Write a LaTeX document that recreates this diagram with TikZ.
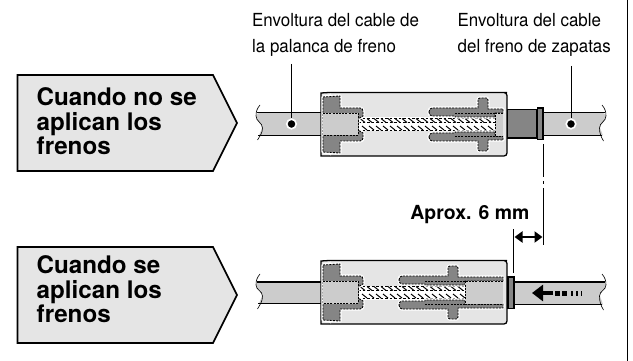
\documentclass[tikz,border=0pt]{standalone}
\usepackage{fontspec}
\setmainfont{TeX Gyre Heros}
\newfontfamily\narrowfont[FakeStretch=0.94]{TeX Gyre Heros}
\usetikzlibrary{arrows.meta}
\definecolor{panel}{gray}{0.90}
\definecolor{cablegray}{gray}{0.80}
\definecolor{partdark}{gray}{0.52}
\tikzset{
  signbox/.style={draw=black,line width=1.7pt,fill=panel,line join=miter},
  signtext/.style={anchor=north west,inner sep=0pt,align=left,font=\fontsize{24.2}{24.6}\selectfont\bfseries},
  calltext/.style={anchor=north west,inner sep=0pt,align=left,font=\narrowfont\fontsize{18}{26}\selectfont},
  leader/.style={draw=black,line width=0.8pt},
  dimline/.style={draw=black,line width=0.8pt},
  dotmark/.style={circle,fill=black,draw=white,line width=1.6pt,minimum size=9.5pt,inner sep=0pt},
  cableedge/.style={draw=black,line width=1.7pt},
  endcurve/.style={draw=black,line width=0.6pt},
  halo/.style={draw=white,line width=3.2pt,line join=round},
  partfill/.style={fill=partdark,draw=black,line width=0.9pt,dash pattern=on 2pt off 1.2pt},
  strand/.style={draw=black,line width=1pt},
}
% #1 = how far the right hand piece has moved to the left
\newcommand{\pieceupper}[1]{
  (429-#1,112) to[out=90,in=180] (432-#1,108) -- (478-#1,108) -- (478-#1,100)
  to[out=90,in=180] (480-#1,98) -- (486-#1,98) to[out=0,in=90] (488-#1,100) -- (488-#1,109) -- (503,109)
  -- (503,113) -- (495-#1,113) -- (495-#1,117) -- (455-#1,117) -- (455-#1,116) -- (432-#1,116) to[out=180,in=270] cycle
}
\newcommand{\piecelower}[1]{
  (429-#1,137) to[out=270,in=180] (432-#1,141) -- (478-#1,141) -- (478-#1,149)
  to[out=270,in=180] (480-#1,151) -- (486-#1,151) to[out=0,in=270] (488-#1,149) -- (488-#1,140) -- (503,140)
  -- (503,136) -- (495-#1,136) -- (495-#1,132) -- (455-#1,132) -- (455-#1,133) -- (432-#1,133) to[out=180,in=90] cycle
}
% the connector body, drawn in the coordinates of the upper one
\newcommand{\connectorbody}[1]{
  \fill[panel] (321,93) -- (507,93) -- (507,156) -- (321,156) -- cycle;
  \draw[black,line width=1.3pt,rounded corners=3pt] (329,92.5) -- (504,92.5) -- (507,92.5) -- (507,156) -- (329,156);
  \draw[black,line width=1.3pt] (329,92.5) -- (321,93) -- (321,156) -- (329,156);
  \draw[white,line width=0.7pt] (323,95) -- (329,95) -- (331,93.8);
  \draw[white,line width=0.7pt] (323,154) -- (329,154) -- (331,155);
  % strands
  \fill[white] (356,117.5) rectangle (495-#1,131.5);
  \foreach \sx in {360,367,...,490}{
    \pgfmathparse{\sx<(490-#1)?1:0}
    \ifnum\pgfmathresult=1
      \draw[strand] (\sx,118.5) -- (\sx+5,122.5);
      \draw[strand] (\sx+2,126) -- (\sx+7,130);
    \fi
  }
  \draw[strand,line width=.7pt,dash pattern=on 2.5pt off 2pt] (358,122.5) -- (495-#1,122.5);
  \draw[strand,line width=.7pt,dash pattern=on 2.5pt off 2pt] (358,130.5) -- (495-#1,130.5);
  \draw[strand,line width=.7pt,dash pattern=on 2.5pt off 2pt] (358,118) -- (495-#1,118);
  % left insert
  \path[halo,fill=white] (323,97) -- (340,96) -- (340,108) -- (360,108) to[out=0,in=90] (363,111) -- (363,116) -- (358,119)
     -- (358,130) -- (363,133) -- (363,138) to[out=270,in=0] (360,141) -- (340,141) -- (340,153) -- (323,152) -- cycle;
  \path[partfill] (323,97) -- (340,96) -- (340,108) -- (360,108) to[out=0,in=90] (363,111) -- (363,116) -- (358,119)
     -- (358,130) -- (363,133) -- (363,138) to[out=270,in=0] (360,141) -- (340,141) -- (340,153) -- (323,152) -- cycle;
  \fill[cablegray] (323,113) rectangle (358,135.5);
  \draw[strand,line width=.8pt,dash pattern=on 2pt off 1.2pt] (323,113) -- (358,113) -- (358,135.5) -- (323,135.5);
  % right piece
  \path[halo,fill=white] \pieceupper{#1};
  \path[halo,fill=white] \piecelower{#1};
  \path[partfill] \pieceupper{#1};
  \path[partfill] \piecelower{#1};
  \draw[strand,line width=.8pt,dash pattern=on 2pt off 1.2pt] (455-#1,113) -- (495-#1,113);
  \draw[strand,line width=.8pt,dash pattern=on 2pt off 1.2pt] (455-#1,136) -- (495-#1,136);
  \fill[cablegray] (495-#1,113) rectangle (503,136);
  \draw[strand,line width=.8pt,dash pattern=on 2pt off 1.2pt] (503,113) -- (495-#1,113) -- (495-#1,136) -- (503,136);
}
\begin{document}
\begin{tikzpicture}[x=1pt,y=-1pt]
\useasboundingbox (0,0) rectangle (633,361);
\fill[white] (0,0) rectangle (633,361);
% frame line
\coordinate (frameTop) at (627.5,0);
\coordinate (frameBottom) at (627.5,361);
\draw[black,line width=1pt] (frameTop) -- (frameBottom);

% signs
\draw[signbox] (17.5,75) -- (213,75) -- (237,123) -- (213,171) -- (17.5,171) -- cycle;
\node[signtext] (signA) at (36.5,87.5) {Cuando no se\\aplican los\\frenos};
\draw[signbox] (17.5,247) -- (213,247) -- (237,295) -- (213,343) -- (17.5,343) -- cycle;
\node[signtext] (signB) at (36.5,255.5) {Cuando se\\aplican los\\frenos};

% upper cables
\fill[cablegray] (259,113) to[out=180,in=90] (256,117) to[out=270,in=90] (262,128) to[out=270,in=90] (259,135.5) -- (321,135.5) -- (321,113) -- cycle;
\draw[cableedge,line width=1pt] (257,113) -- (321,113);
\draw[cableedge] (258,135.5) -- (321,135.5);
\draw[endcurve] (260,105) to[out=230,in=90] (256,116) to[out=270,in=90] (262.5,128) to[out=270,in=60] (257.5,140);
\fill[cablegray] (543,113) -- (603,113) to[out=0,in=90] (606,117) to[out=270,in=90] (600,128) to[out=270,in=90] (603,135.5) -- (543,135.5) -- cycle;
\draw[cableedge,line width=1pt] (543,113) -- (605,113);
\draw[cableedge] (543,135.5) -- (602,135.5);
\draw[endcurve] (602,105) to[out=-50,in=90] (606,116) to[out=270,in=90] (599.5,128) to[out=270,in=120] (603.5,141);
% upper sleeve and ring
\draw[fill=partdark,draw=black,line width=1.3pt] (507,109.5) rectangle (537,138);
\draw[fill=partdark,draw=black,line width=1.2pt] (537.5,108) rectangle (543,139.5);
\connectorbody{0}

% lower cables
\fill[cablegray] (259,282) to[out=180,in=90] (256,285) to[out=270,in=90] (262,296) to[out=270,in=90] (259,303.5) -- (321,303.5) -- (321,282) -- cycle;
\draw[cableedge] (257,282) -- (321,282);
\draw[cableedge] (258,303.5) -- (321,303.5);
\draw[endcurve] (260,274) to[out=230,in=90] (256,285) to[out=270,in=90] (262.5,296) to[out=270,in=60] (257.5,309);
\fill[cablegray] (514,282) -- (603,282) to[out=0,in=90] (606,285) to[out=270,in=90] (600,296) to[out=270,in=90] (603,304.5) -- (514,304.5) -- cycle;
\draw[cableedge] (514,282) -- (605,282);
\draw[cableedge] (514,304.5) -- (602,304.5);
\draw[endcurve] (602,274) to[out=-50,in=90] (606,285) to[out=270,in=90] (599.5,296) to[out=270,in=120] (603.5,310);
\draw[fill=partdark,draw=black,line width=1.2pt] (508,277) rectangle (514,308.5);
\begin{scope}[shift={(0,168)}]
\connectorbody{30}
\end{scope}

% push arrow
\coordinate (pushTail) at (553,293);
\coordinate (pushTip) at (532,293);
\draw[black,line width=4.5pt,-{Triangle[length=11pt,width=16pt]}] (pushTail) -- (pushTip);
\fill[black] (555,291) rectangle (560,295.5);
\fill[black] (562,291) rectangle (567,295.5);
\fill[black] (570.5,291) rectangle (573,295.5);
\fill[black] (576,291) rectangle (578,295.5);
\fill[black] (581,291) rectangle (582,295.5);

% callouts
\node[calltext] (labelA) at (252,13.5) {Envoltura del cable de\\la palanca de freno};
\node[calltext] (labelB) at (457.5,13.5) {Envoltura del cable\\del freno de zapatas};
\node[dotmark] (dotA) at (291.5,124) {};
\node[dotmark] (dotB) at (571,124) {};
\coordinate (leadA) at (291.5,64);
\coordinate (leadB) at (571,66);
\draw[leader] (leadA) -- (dotA);
\draw[leader] (leadB) -- (dotB);

% dimension
\node[anchor=base east,inner sep=0pt,font=\fontsize{19.4}{22}\selectfont\bfseries] (dimText) at (529.5,219) {Aprox. 6 mm};
\coordinate (dimA1) at (543,144);
\coordinate (dimA2) at (543,177);
\coordinate (dimA3) at (543,181);
\coordinate (dimA4) at (543,184);
\coordinate (dimA5) at (543,188);
\coordinate (dimA6) at (543,245);
\coordinate (dimB1) at (513.5,229);
\coordinate (dimB2) at (513.5,273);
\draw[dimline] (dimA1) -- (dimA2);
\draw[dimline] (dimA3) -- (dimA4);
\draw[dimline] (dimA5) -- (dimA6);
\draw[dimline] (dimB1) -- (dimB2);
\coordinate (spanL) at (514.5,237);
\coordinate (spanR) at (542.5,237);
\draw[black,line width=2.2pt,{Triangle[length=8pt,width=11pt]}-{Triangle[length=8pt,width=11pt]}] (spanL) -- (spanR);
\end{tikzpicture}
\end{document}
